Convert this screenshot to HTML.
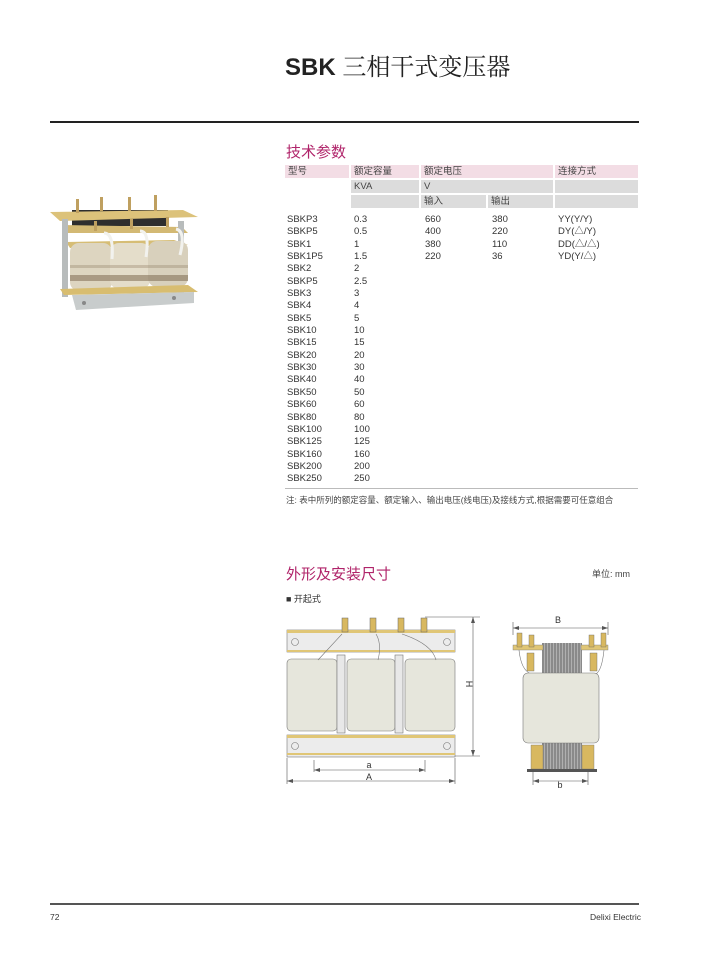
<!DOCTYPE html>
<html><head><meta charset="utf-8"><style>
*{margin:0;padding:0;box-sizing:border-box}
body{width:703px;height:954px;background:#fff;position:relative;overflow:hidden;font-family:"Liberation Sans","Noto Sans CJK SC",sans-serif;color:#333}
.a{position:absolute;white-space:nowrap}
.t{font-size:9.5px;line-height:12.35px}
.cell{position:absolute;font-size:9.5px;line-height:13px;padding-left:3px;color:#444}
.pk{background:#f3dde5}
.gr{background:#dcdcdc}
.mag{color:#b0246a;font-size:15px}
</style></head><body>
<div class="a" style="left:285px;top:47px;font-size:24px;color:#222"><b>SBK</b> <span style="font-family:'Noto Serif CJK SC',serif;font-weight:400">三相干式变压器</span></div>
<div class="a" style="left:50px;top:121px;width:589px;height:1.5px;background:#222"></div>

<div class="a mag" style="left:286px;top:141px">技术参数</div>
<div class="cell pk" style="left:285px;top:165px;width:64px;height:13px">型号</div>
<div class="cell pk" style="left:351px;top:165px;width:68px;height:13px">额定容量</div>
<div class="cell pk" style="left:421px;top:165px;width:132px;height:13px">额定电压</div>
<div class="cell pk" style="left:555px;top:165px;width:83px;height:13px">连接方式</div>
<div class="cell gr" style="left:351px;top:180px;width:68px;height:13px">KVA</div>
<div class="cell gr" style="left:421px;top:180px;width:132px;height:13px">V</div>
<div class="cell gr" style="left:555px;top:180px;width:83px;height:13px"></div>
<div class="cell gr" style="left:351px;top:195px;width:68px;height:13px"></div>
<div class="cell gr" style="left:421px;top:195px;width:65px;height:13px">输入</div>
<div class="cell gr" style="left:488px;top:195px;width:65px;height:13px">输出</div>
<div class="cell gr" style="left:555px;top:195px;width:83px;height:13px"></div>

<div class="a t" style="left:287px;top:214px">SBKP3<br>SBKP5<br>SBK1<br>SBK1P5<br>SBK2<br>SBKP5<br>SBK3<br>SBK4<br>SBK5<br>SBK10<br>SBK15<br>SBK20<br>SBK30<br>SBK40<br>SBK50<br>SBK60<br>SBK80<br>SBK100<br>SBK125<br>SBK160<br>SBK200<br>SBK250</div>
<div class="a t" style="left:354px;top:214px">0.3<br>0.5<br>1<br>1.5<br>2<br>2.5<br>3<br>4<br>5<br>10<br>15<br>20<br>30<br>40<br>50<br>60<br>80<br>100<br>125<br>160<br>200<br>250</div>
<div class="a t" style="left:425px;top:214px">660<br>400<br>380<br>220</div>
<div class="a t" style="left:492px;top:214px">380<br>220<br>110<br>36</div>
<div class="a t" style="left:558px;top:214px">YY(Y/Y)<br>DY(△/Y)<br>DD(△/△)<br>YD(Y/△)</div>
<div class="a" style="left:285px;top:488px;width:353px;height:1px;background:#bbb"></div>
<div class="a" style="left:286px;top:494px;font-size:8.5px;color:#444">注: 表中所列的额定容量、额定输入、输出电压(线电压)及接线方式,根据需要可任意组合</div>

<div class="a mag" style="left:286px;top:563px">外形及安装尺寸</div>
<div class="a" style="left:592px;top:567px;font-size:9px;color:#444">单位: mm</div>
<div class="a" style="left:286px;top:592px;font-size:9px;color:#333">■ 开起式</div>

<!-- photo -->
<svg class="a" style="left:48px;top:195px" width="150" height="115" viewBox="0 0 150 115">
<rect x="24" y="15" width="96" height="16" fill="#2e2e2e"/>
<polygon points="2,17 135,15 150,22 12,26" fill="#dcc27a"/>
<polygon points="18,47 126,45 140,50 22,53" fill="#d6bd75"/>
<polygon points="14,30 134,32 140,38 18,38" fill="#d3b974"/>
<rect x="14" y="24" width="6" height="78" fill="#b8bcbc"/>
<rect x="130" y="26" width="6" height="72" fill="#b8bcbc"/>
<rect x="22" y="48" width="42" height="48" rx="9" fill="#ddd5c0"/>
<rect x="62" y="48" width="40" height="46" rx="9" fill="#e4ddca"/>
<rect x="100" y="46" width="40" height="46" rx="9" fill="#d8d0bc"/>
<rect x="22" y="80" width="118" height="6" fill="#7d6a50" opacity=".55"/>
<rect x="22" y="70" width="118" height="3" fill="#9a8a70" opacity=".4"/>
<polygon points="12,94 140,90 150,97 16,100" fill="#d8bd70"/>
<polygon points="24,100 146,97 146,108 28,115" fill="#c8cccc"/>
<g fill="#bfa060"><rect x="28" y="4" width="3" height="14"/><rect x="52" y="2" width="3" height="14"/><rect x="80" y="2" width="3" height="14"/><rect x="106" y="0" width="3" height="16"/>
<rect x="46" y="26" width="3" height="10"/><rect x="82" y="24" width="3" height="10"/><rect x="118" y="22" width="3" height="10"/></g>
<path d="M56 38 q10 0 8 26 M92 36 q10 0 6 26 M128 34 q10 2 4 26" stroke="#f2f2ee" stroke-width="3" fill="none"/>
<circle cx="36" cy="108" r="2" fill="#888"/><circle cx="126" cy="103" r="2" fill="#888"/>
</svg>

<!-- front drawing -->
<svg class="a" style="left:280px;top:600px" width="200" height="190" viewBox="0 0 200 190">
<g fill="none" stroke="#777" stroke-width=".6">
<rect x="7" y="30" width="168" height="22" fill="#ececec"/>
<rect x="7" y="30" width="168" height="3" fill="#e0c676" stroke="none"/>
<rect x="7" y="50" width="168" height="2" fill="#e0c676" stroke="none"/>
<rect x="7" y="59" width="50" height="72" rx="4" fill="#e6e6dc"/>
<rect x="67" y="59" width="48" height="72" rx="4" fill="#e6e6dc"/>
<rect x="125" y="59" width="50" height="72" rx="4" fill="#e6e6dc"/>
<rect x="57" y="55" width="8" height="78" fill="#e8e8e8"/>
<rect x="115" y="55" width="8" height="78" fill="#e8e8e8"/>
<rect x="7" y="135" width="168" height="22" fill="#ececec"/>
<rect x="7" y="135" width="168" height="3" fill="#e0c676" stroke="none"/>
<rect x="7" y="153" width="168" height="2" fill="#e0c676" stroke="none"/>
<circle cx="15" cy="42" r="3.5"/><circle cx="167" cy="42" r="3.5"/>
<circle cx="15" cy="146" r="3.5"/><circle cx="167" cy="146" r="3.5"/>
<path d="M62 34 L38 60 M96 34 q6 10 2 26 M122 34 q30 10 34 26"/>
</g>
<g fill="#d8b860" stroke="#666" stroke-width=".5">
<rect x="62" y="18" width="6" height="14"/><rect x="90" y="18" width="6" height="14"/><rect x="118" y="18" width="6" height="14"/><rect x="141" y="18" width="6" height="14"/>
</g>
<g stroke="#555" stroke-width=".6" fill="none">
<path d="M145 17 H200 M175 156 H200 M193 17 V156"/>
<path d="M34 160 V172 M145 160 V172 M34 170 H145"/>
<path d="M7 158 V184 M175 158 V184 M7 181 H175"/>
</g>
<g fill="#555"><path d="M193 17 l-2 6 h4z M193 156 l-2 -6 h4z M34 170 l6 -2 v4z M145 170 l-6 -2 v4z M7 181 l6 -2 v4z M175 181 l-6 -2 v4z"/></g>
<text x="89" y="168" font-size="9" fill="#333" text-anchor="middle" font-family="Liberation Sans">a</text>
<text x="89" y="180" font-size="9" fill="#333" text-anchor="middle" font-family="Liberation Sans">A</text>
<text x="186" y="84" font-size="9" fill="#333" transform="rotate(90 186 84)" text-anchor="middle" font-family="Liberation Sans">H</text>
</svg>

<!-- side drawing -->
<svg class="a" style="left:505px;top:605px" width="130" height="185" viewBox="0 0 130 185">
<defs><pattern id="lam" width="3" height="4" patternUnits="userSpaceOnUse"><rect width="3" height="4" fill="#8a8a8a"/><rect width="1" height="4" fill="#b0b0b0"/></pattern></defs>
<g stroke="#555" stroke-width=".6" fill="none">
<path d="M8 17 V30 M103 17 V30 M8 23 H103"/>
<path d="M28 160 V180 M83 160 V180 M28 176 H83"/>
</g>
<g fill="#555"><path d="M8 23 l6 -2 v4z M103 23 l-6 -2 v4z M28 176 l6 -2 v4z M83 176 l-6 -2 v4z"/></g>
<text x="53" y="18" font-size="9" fill="#333" text-anchor="middle" font-family="Liberation Sans">B</text>
<text x="55" y="183" font-size="9" fill="#333" text-anchor="middle" font-family="Liberation Sans">b</text>
<rect x="37" y="38" width="40" height="32" fill="url(#lam)"/>
<rect x="37" y="136" width="40" height="30" fill="url(#lam)"/>
<rect x="8" y="40" width="30" height="5" fill="#e0c676" stroke="#777" stroke-width=".4"/>
<rect x="76" y="40" width="27" height="5" fill="#e0c676" stroke="#777" stroke-width=".4"/>
<g fill="#d8b860" stroke="#666" stroke-width=".4"><rect x="12" y="28" width="5" height="14"/><rect x="24" y="30" width="5" height="12"/><rect x="84" y="30" width="5" height="12"/><rect x="96" y="28" width="5" height="14"/>
<rect x="22" y="48" width="7" height="18"/><rect x="85" y="48" width="7" height="18"/></g>
<path d="M14 45 q2 20 12 24 M99 45 q-2 20 -8 24" stroke="#777" stroke-width=".6" fill="none"/>
<rect x="18" y="68" width="76" height="70" rx="5" fill="#e6e6dc" stroke="#777" stroke-width=".6"/>
<rect x="26" y="140" width="12" height="24" fill="#d8b860" stroke="#777" stroke-width=".4"/>
<rect x="77" y="140" width="12" height="24" fill="#d8b860" stroke="#777" stroke-width=".4"/>
<rect x="22" y="164" width="70" height="3" fill="#555"/>
</svg>

<div class="a" style="left:50px;top:903px;width:589px;height:1.5px;background:#555"></div>
<div class="a" style="left:50px;top:912px;font-size:8.5px;color:#333">72</div>
<div class="a" style="left:590px;top:912px;font-size:8.5px;color:#333">Delixi Electric</div>
</body></html>
